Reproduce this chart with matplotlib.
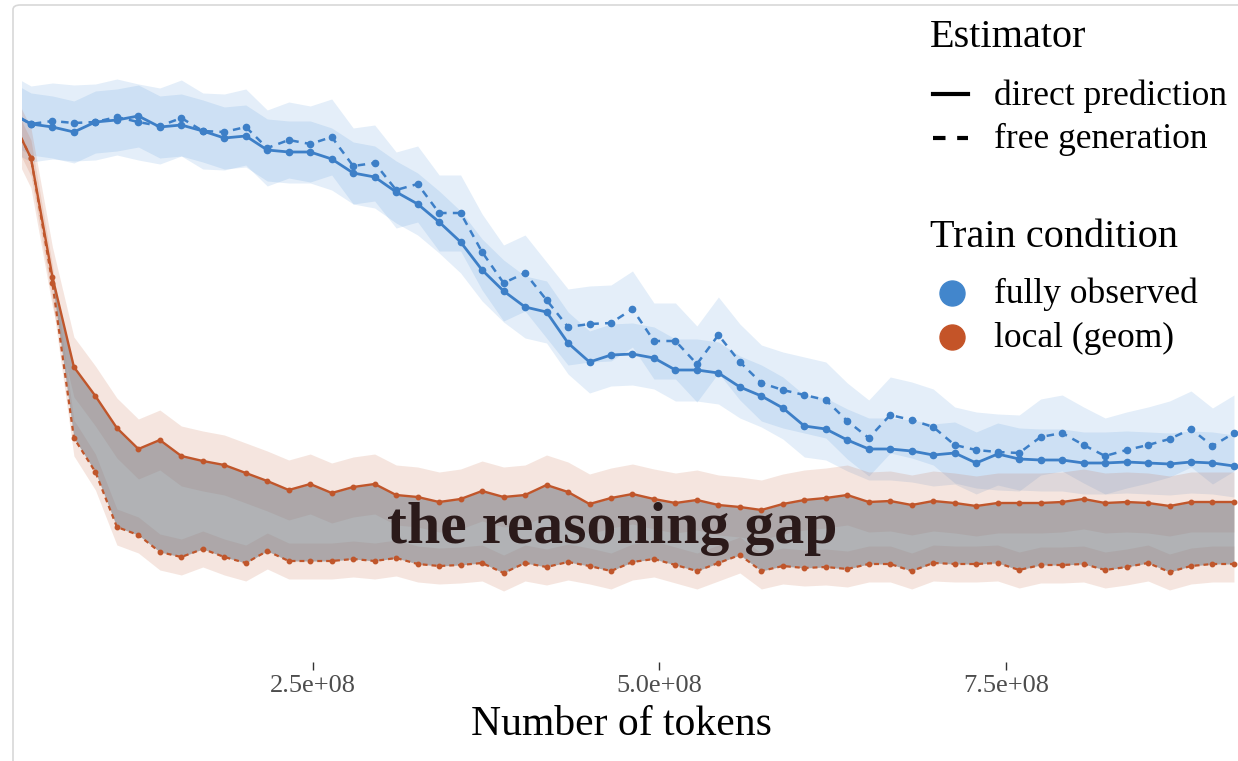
import numpy as np
import matplotlib
matplotlib.use("Agg")
import matplotlib.pyplot as plt
from matplotlib.lines import Line2D
from matplotlib.patches import FancyBboxPatch

# === DATA ===
# evaluation checkpoints (tokens seen), one every 1.55e7 tokens
step = 1.55e7
tokens = step * np.arange(2, 60)

# loss-like score per checkpoint
full_direct = [5.88, 5.76, 5.73, 5.68, 5.78, 5.80, 5.84, 5.73, 5.75, 5.69,
               5.62, 5.64, 5.50, 5.48, 5.48, 5.41, 5.27, 5.23, 5.08, 4.96,
               4.78, 4.58, 4.30, 4.09, 3.93, 3.88, 3.57, 3.38, 3.45, 3.46,
               3.42, 3.30, 3.30, 3.27, 3.13, 3.04, 2.92, 2.74, 2.71, 2.60,
               2.51, 2.51, 2.49, 2.45, 2.47, 2.37, 2.46, 2.41, 2.40, 2.40,
               2.37, 2.37, 2.38, 2.37, 2.36, 2.38, 2.37, 2.34]
full_free = [5.88, 5.76, 5.79, 5.77, 5.78, 5.83, 5.78, 5.74, 5.82, 5.69,
             5.68, 5.73, 5.52, 5.60, 5.56, 5.63, 5.34, 5.37, 5.10, 5.16,
             4.87, 4.87, 4.48, 4.17, 4.27, 4.00, 3.73, 3.76, 3.77, 3.91,
             3.59, 3.59, 3.36, 3.65, 3.38, 3.17, 3.10, 3.05, 3.00, 2.79,
             2.62, 2.85, 2.80, 2.73, 2.55, 2.50, 2.48, 2.47, 2.63, 2.67,
             2.55, 2.44, 2.50, 2.55, 2.61, 2.71, 2.54, 2.67]
local_direct = [5.86, 5.42, 4.23, 3.33, 3.04, 2.72, 2.51, 2.60, 2.44, 2.39,
                2.35, 2.27, 2.19, 2.10, 2.16, 2.07, 2.13, 2.16, 2.05, 2.03,
                1.98, 2.01, 2.09, 2.03, 2.05, 2.15, 2.08, 1.96, 2.02, 2.06,
                2.01, 1.97, 2.00, 1.95, 1.93, 1.90, 1.96, 2.00, 2.02, 2.05,
                1.98, 1.99, 1.95, 1.99, 1.97, 1.94, 1.97, 1.97, 1.97, 1.98,
                2.01, 1.97, 1.98, 1.97, 1.94, 1.98, 1.98, 1.98]
local_free = [5.86, 5.42, 4.17, 2.62, 2.28, 1.73, 1.65, 1.48, 1.43, 1.51,
              1.43, 1.37, 1.49, 1.39, 1.39, 1.39, 1.41, 1.39, 1.42, 1.36,
              1.34, 1.35, 1.37, 1.27, 1.37, 1.33, 1.38, 1.34, 1.29, 1.38,
              1.41, 1.35, 1.29, 1.37, 1.45, 1.29, 1.34, 1.32, 1.33, 1.31,
              1.36, 1.36, 1.29, 1.37, 1.36, 1.36, 1.37, 1.30, 1.35, 1.35,
              1.36, 1.30, 1.33, 1.37, 1.28, 1.34, 1.36, 1.36]

# half-width of the confidence band for each run
band = {"full_direct": 0.31, "full_free": 0.38,
        "local_direct": 0.30, "local_free": 0.18}

xticks = [2.5e8, 5.0e8, 7.5e8]
xtick_labels = ["2.5e+08", "5.0e+08", "7.5e+08"]

# === STYLE ===
BLUE = "#3d7fc7"
BLUE_FILL = "#4a90d9"
ORANGE = "#c0562b"
BLUE_KEY = "#4286cc"
ORANGE_KEY = "#c45428"
SERIF = ["Liberation Serif", "DejaVu Serif"]

W, H = 1238, 761
fig = plt.figure(figsize=(W / 100, H / 100), dpi=100)


def fx(px):
    return px / W


def fy(py):
    return 1 - py / H


ax = fig.add_axes([fx(22), fy(662), fx(1238) - fx(22), fy(0) - fy(662)])
ax.set_xlim(4.004e7, 9.174e8)
ax.set_ylim(0.38, 7.0)

x = tokens
fd, ff = np.array(full_direct), np.array(full_free)
ld, lf = np.array(local_direct), np.array(local_free)

# confidence bands
ax.fill_between(x, fd - band["full_direct"], fd + band["full_direct"],
                color=BLUE_FILL, alpha=0.15, lw=0)
ax.fill_between(x, ff - band["full_free"], ff + band["full_free"],
                color=BLUE_FILL, alpha=0.15, lw=0)
ax.fill_between(x, ld - band["local_direct"], ld + band["local_direct"],
                color=ORANGE, alpha=0.15, lw=0)
ax.fill_between(x, lf - band["local_free"], lf + band["local_free"],
                color=ORANGE, alpha=0.15, lw=0)

# gap between direct prediction and free generation
ax.fill_between(x, lf, ld, color="#7d7f85", alpha=0.6, lw=0)

# lines + points
ax.plot(x, fd, color=BLUE, lw=2.0, marker="o", ms=4.5, zorder=4)
ax.plot(x, ff, color=BLUE, lw=1.8, ls=(0, (3, 2.5)), marker="o", ms=4.5, zorder=4)
ax.plot(x, ld, color=ORANGE, lw=1.7, marker="o", ms=3.2, zorder=4)
ax.plot(x, lf, color=ORANGE, lw=1.6, ls=(0, (2.2, 1.8)), marker="o", ms=3.2, zorder=4)

ax.text(fx(612), fy(543), "the reasoning gap", transform=fig.transFigure,
        ha="center", va="baseline", fontsize=43, fontweight="bold",
        family=SERIF, color="#2b1a1a", zorder=6)

# axes cosmetics
for s in ax.spines.values():
    s.set_visible(False)
ax.set_yticks([])
ax.set_xticks(xticks)
ax.set_xticklabels(xtick_labels, family=SERIF, fontsize=19, color="#4d4d4d")
ax.tick_params(axis="x", direction="out", length=5.8, width=1.0,
               color="#333333", pad=3.6)
ax.set_xlabel("Number of tokens", family=SERIF, fontsize=30, color="black")
ax.xaxis.set_label_coords((621 - 22) / 1216, (662 - 735) / 662)
ax.xaxis.label.set_va("baseline")

# legend: estimator
fig.text(fx(930), fy(47), "Estimator", family=SERIF, fontsize=29, va="baseline")
fig.add_artist(Line2D([fx(933), fx(968)], [fy(94), fy(94)], color="black",
                      lw=3, transform=fig.transFigure))
fig.add_artist(Line2D([fx(933), fx(968)], [fy(138), fy(138)], color="black",
                      lw=3, ls=(0, (3, 2.8)), transform=fig.transFigure))
fig.text(fx(994), fy(105), "direct prediction", family=SERIF, fontsize=25.5,
         va="baseline")
fig.text(fx(994), fy(148), "free generation", family=SERIF, fontsize=25.5,
         va="baseline")

# legend: train condition
fig.text(fx(930), fy(247), "Train condition", family=SERIF, fontsize=29,
         va="baseline")
fig.add_artist(Line2D([fx(952)], [fy(293)], marker="o", ms=18, lw=0,
                      color=BLUE_KEY, transform=fig.transFigure))
fig.add_artist(Line2D([fx(952)], [fy(337)], marker="o", ms=18, lw=0,
                      color=ORANGE_KEY, transform=fig.transFigure))
fig.text(fx(994), fy(303), "fully observed", family=SERIF, fontsize=25.5,
         va="baseline")
fig.text(fx(994), fy(347), "local (geom)", family=SERIF, fontsize=25.5,
         va="baseline")

# thin page frame
fig.add_artist(FancyBboxPatch((fx(13), fy(800)), fx(1300), fy(5) - fy(800),
                              boxstyle="round,pad=0,rounding_size=0.006",
                              transform=fig.transFigure, fill=False,
                              edgecolor="#d8d8d8", lw=1.2))

fig.savefig("out.png", dpi=100)
